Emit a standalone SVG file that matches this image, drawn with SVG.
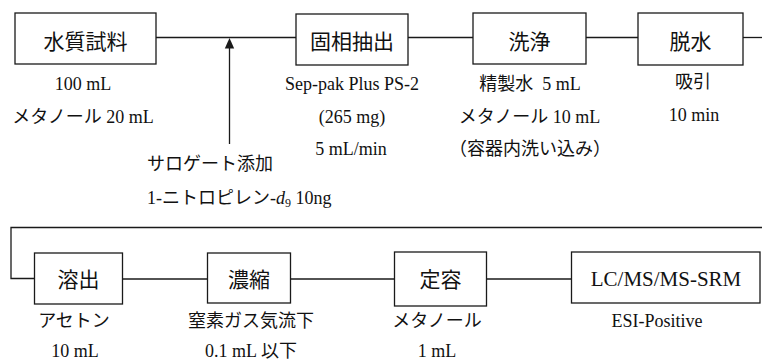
<svg xmlns="http://www.w3.org/2000/svg" width="762" height="363" viewBox="0 0 762 363">
<style>
.box{fill:#fff;stroke:#1a1a1a;stroke-width:1.3}
.ln{fill:none;stroke:#1a1a1a;stroke-width:1.3}
.lb{font-family:"Liberation Serif","Noto Sans CJK JP",serif;font-size:21px;fill:#111;text-anchor:middle}
.t{font-family:"Liberation Serif","Noto Sans CJK JP",serif;font-size:18px;fill:#111;text-anchor:middle;white-space:pre}
.tl{text-anchor:start}
</style>
<rect width="762" height="363" fill="#fff"/>
<g id="connectors">
<line class="ln" x1="156" y1="37.5" x2="296" y2="37.5"/>
<line class="ln" x1="408" y1="37.5" x2="473" y2="37.5"/>
<line class="ln" x1="586" y1="37.5" x2="638" y2="37.5"/>
<line class="ln" x1="743" y1="37.5" x2="762" y2="37.5"/>
<polyline class="ln" points="762,227.5 11,227.5 11,278.5 34.5,278.5"/>
<line class="ln" x1="122.5" y1="279" x2="207.5" y2="279"/>
<line class="ln" x1="290.5" y1="279" x2="394.5" y2="279"/>
<line class="ln" x1="486.5" y1="279" x2="571.5" y2="279"/>
<line class="ln" x1="229.5" y1="144" x2="229.5" y2="46"/>
<polygon points="229.5,38 224.8,48.5 234.2,48.5" fill="#1a1a1a"/>
</g>
<g id="n1">
<rect class="box" x="15" y="13" width="141" height="51"/>
<text class="lb" x="85.5" y="48.5">水質試料</text>
<text class="t" x="83" y="89.5">100 mL</text>
<text class="t" x="83" y="122.5">メタノール 20 mL</text>
</g>
<g id="surrogate">
<text class="t tl" x="147" y="169.5">サロゲート添加</text>
<text class="t tl" x="147" y="204">1-ニトロピレン-<tspan font-style="italic">d</tspan><tspan font-size="12" dy="3">9</tspan><tspan dy="-3"> 10ng</tspan></text>
</g>
<g id="n2">
<rect class="box" x="296" y="14" width="112" height="51"/>
<text class="lb" x="352" y="48.5">固相抽出</text>
<text class="t" x="352" y="89.5">Sep-pak Plus PS-2</text>
<text class="t" x="352" y="122.5">(265 mg)</text>
<text class="t" x="351" y="155">5 mL/min</text>
</g>
<g id="n3">
<rect class="box" x="473" y="13" width="113" height="51"/>
<text class="lb" x="529.5" y="48.5">洗浄</text>
<text class="t" x="530" y="89.5" xml:space="preserve">精製水  5 mL</text>
<text class="t" x="529.5" y="122.5">メタノール 10 mL</text>
<text class="t" x="530" y="155">（容器内洗い込み）</text>
</g>
<g id="n4">
<rect class="box" x="638" y="13" width="105" height="52"/>
<text class="lb" x="690.5" y="48.5">脱水</text>
<text class="t" x="693" y="88">吸引</text>
<text class="t" x="694" y="120.5">10 min</text>
</g>
<g id="n5">
<rect class="box" x="34.5" y="253" width="88" height="51"/>
<text class="lb" x="78.5" y="287">溶出</text>
<text class="t" x="74" y="327">アセトン</text>
<text class="t" x="75" y="357">10 mL</text>
</g>
<g id="n6">
<rect class="box" x="207.5" y="253" width="83" height="50"/>
<text class="lb" x="249" y="287">濃縮</text>
<text class="t" x="251" y="327">窒素ガス気流下</text>
<text class="t" x="251" y="357">0.1 mL 以下</text>
</g>
<g id="n7">
<rect class="box" x="394.5" y="252" width="92" height="54"/>
<text class="lb" x="440.5" y="286.5">定容</text>
<text class="t" x="437" y="327">メタノール</text>
<text class="t" x="437" y="357">1 mL</text>
</g>
<g id="n8">
<rect class="box" x="571.5" y="252" width="188.5" height="51"/>
<text class="lb" x="666" y="285.5">LC/MS/MS-SRM</text>
<text class="t" x="657" y="327">ESI-Positive</text>
</g>
</svg>
